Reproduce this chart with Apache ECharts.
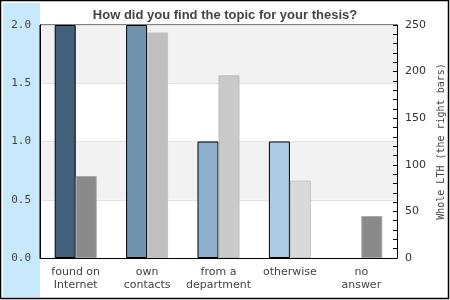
<!DOCTYPE html>
<html>
<head>
<meta charset="utf-8">
<script src="https://cdn.jsdelivr.net/npm/echarts@6/dist/echarts.min.js"></script>
<style>html,body{margin:0;padding:0;background:#fff}#c{width:450px;height:300px}</style>
</head>
<body>
<div id="c"></div>
<script>
var categories = ['found on\nInternet', 'own\ncontacts', 'from a\ndepartment', 'otherwise', 'no\nanswer'];
var currentSelection = [2, 2, 1, 1, 0];
var wholeLTH = [88, 242, 196, 83, 45];
var leftTicks = [0, 0.5, 1.0, 1.5, 2.0];
var rightTicks = [0, 50, 100, 150, 200, 250];

var leftColors = ['#40607c', '#7093b0', '#8fb0cc', '#abcde8', '#c6dff2'];
var rightColors = ['#8a8a8a', '#bfbfbf', '#cacaca', '#d9d9d9', '#8a8a8a'];
var rightBorders = ['#a8a8a8', '#c4c4c4', '#bdbdbd', '#c4c4c4', '#a8a8a8'];

var chart = echarts.init(document.getElementById('c'), null, {renderer: 'canvas'});
var option = {
  animation: false,
  backgroundColor: '#fff',
  graphic: [
    {type: 'rect', shape: {x: 0.5, y: 0.5, width: 448, height: 298}, style: {fill: '#fff', stroke: '#000', lineWidth: 1.5}, z: -10, silent: true},
    {type: 'rect', shape: {x: 3, y: 3, width: 37, height: 294}, style: {fill: '#c8e8fc'}, z: -9, silent: true}
  ],
  title: {
    text: 'How did you find the topic for your thesis?',
    left: 'center', top: 4,
    textStyle: {fontFamily: 'Liberation Sans', fontSize: 13, fontWeight: 'bold', color: '#444'}
  },
  grid: {left: 40, right: 53, top: 25, bottom: 42, show: true, borderColor: '#000', borderWidth: 1, backgroundColor: 'transparent', containLabel: false, outerBoundsMode: 'none'},
  xAxis: {
    type: 'category',
    data: categories,
    axisLine: {lineStyle: {color: '#000'}},
    axisTick: {show: false},
    axisLabel: {fontFamily: 'DejaVu Sans', fontSize: 11, color: '#444', lineHeight: 13, margin: 8, interval: 0}
  },
  yAxis: [
    {
      type: 'value', min: leftTicks[0], max: leftTicks[leftTicks.length - 1], interval: 0.5,
      position: 'left',
      name: 'Current selection (the left bars)', nameLocation: 'middle', nameRotate: 90, nameGap: 30,
      nameTextStyle: {fontFamily: 'DejaVu Sans Mono', fontSize: 10, color: '#444'},
      axisLine: {show: true, lineStyle: {color: '#000'}},
      axisTick: {show: false},
      axisLabel: {fontFamily: 'DejaVu Sans Mono', fontSize: 11, color: '#444', margin: 9, formatter: function (v) { return v.toFixed(1); }},
      splitLine: {show: true, lineStyle: {color: '#e2e2e2'}},
      splitArea: {show: true, areaStyle: {color: ['#ffffff', '#f2f2f2']}}
    },
    {
      type: 'value', min: rightTicks[0], max: rightTicks[rightTicks.length - 1], interval: 50,
      position: 'right',
      name: 'Whole LTH (the right bars)', nameLocation: 'middle', nameRotate: 90, nameGap: 32,
      nameTextStyle: {fontFamily: 'DejaVu Sans Mono', fontSize: 10, color: '#444'},
      axisLine: {show: true, lineStyle: {color: '#000'}},
      axisTick: {show: true, inside: true, length: 4, lineStyle: {color: '#000'}},
      minorTick: {show: true, splitNumber: 5, length: 4, lineStyle: {color: '#000'}},
      axisLabel: {fontFamily: 'DejaVu Sans', fontSize: 11, color: '#333', margin: 8},
      splitLine: {show: false}
    }
  ],
  series: [
    {
      type: 'bar', yAxisIndex: 0, barWidth: 21, barGap: '0%',
      data: currentSelection.map(function (v, i) {
        return {value: v, itemStyle: {color: leftColors[i], borderColor: '#000', borderWidth: v > 0 ? 1 : 0}};
      })
    },
    {
      type: 'bar', yAxisIndex: 1, barWidth: 21, barGap: '0%',
      data: wholeLTH.map(function (v, i) {
        return {value: v, itemStyle: {color: rightColors[i], borderColor: rightBorders[i], borderWidth: 1}};
      })
    }
  ]
};
chart.setOption(option);
</script>
</body>
</html>
